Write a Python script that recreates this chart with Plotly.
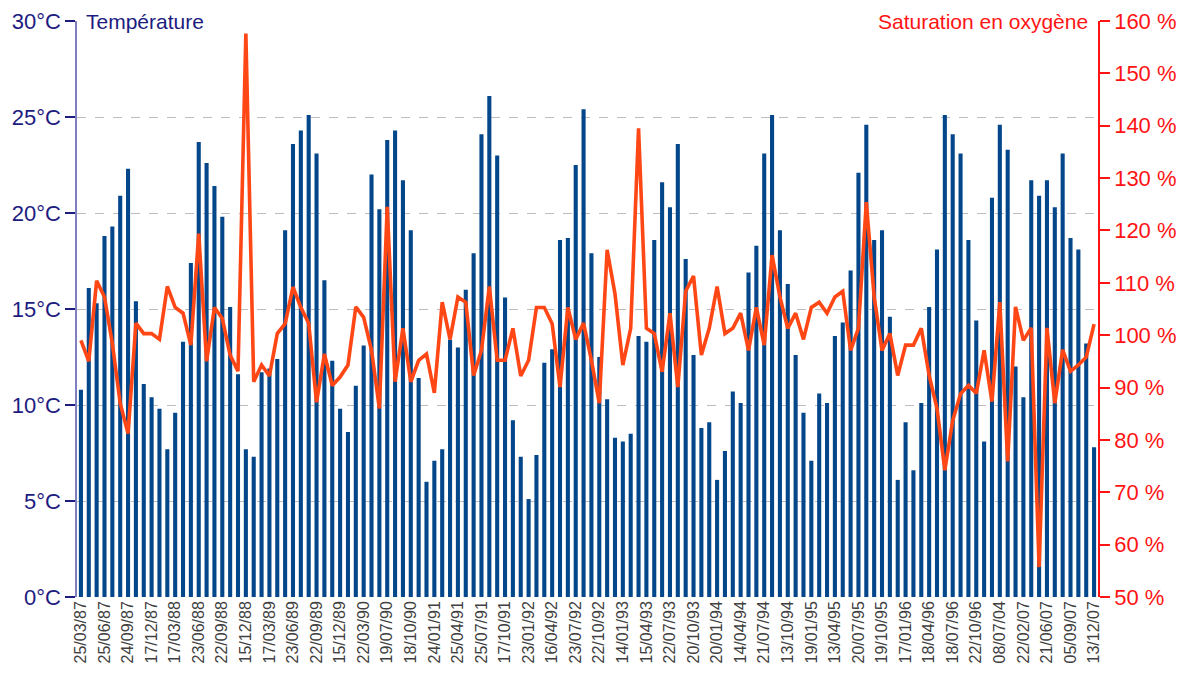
import plotly.graph_objects as go

tick_labels = ["25/03/87", "25/06/87", "24/09/87", "17/12/87", "17/03/88", "23/06/88", "22/09/88",
               "15/12/88", "17/03/89", "23/06/89", "22/09/89", "15/12/89", "22/03/90", "19/07/90",
               "18/10/90", "24/01/91", "25/04/91", "25/07/91", "17/10/91", "23/01/92", "16/04/92",
               "23/07/92", "22/10/92", "14/01/93", "15/04/93", "22/07/93", "20/10/93", "20/01/94",
               "14/04/94", "21/07/94", "13/10/94", "19/01/95", "13/04/95", "20/07/95", "19/10/95",
               "17/01/96", "18/04/96", "18/07/96", "22/10/96", "08/07/04", "22/02/07", "21/06/07",
               "05/09/07", "13/12/07"]

temperature = [10.8, 16.1, 15.3, 18.8, 19.3, 20.9, 22.3, 15.4, 11.1, 10.4,
               9.8, 7.7, 9.6, 13.3, 17.4, 23.7, 22.6, 21.4, 19.8, 15.1,
               11.6, 7.7, 7.3, 11.7, 11.9, 12.4, 19.1, 23.6, 24.3, 25.1,
               23.1, 16.5, 12.3, 9.8, 8.6, 11.0, 13.1, 22.0, 20.2, 23.8,
               24.3, 21.7, 19.1, 11.4, 6.0, 7.1, 7.7, 13.4, 13.0, 16.0,
               17.9, 24.1, 26.1, 23.0, 15.6, 9.2, 7.3, 5.1, 7.4, 12.2,
               12.9, 18.6, 18.7, 22.5, 25.4, 17.9, 12.5, 10.3, 8.3, 8.1,
               8.5, 13.6, 13.3, 18.6, 21.6, 20.3, 23.6, 17.6, 12.6, 8.8,
               9.1, 6.1, 7.6, 10.7, 10.1, 16.9, 18.3, 23.1, 25.1, 19.1,
               16.3, 12.6, 9.6, 7.1, 10.6, 10.1, 13.6, 14.3, 17.0, 22.1,
               24.6, 18.6, 19.1, 14.6, 6.1, 9.1, 6.6, 10.1, 15.1, 18.1,
               25.1, 24.1, 23.1, 18.6, 14.4, 8.1, 20.8, 24.6, 23.3, 12.0,
               10.4, 21.7, 20.9, 21.7, 20.3, 23.1, 18.7, 18.1, 13.2, 7.8]

saturation = [99.0, 95.0, 110.4, 107.3, 98.4, 87.0, 81.2, 102.3, 100.3, 100.3,
              99.2, 109.3, 105.3, 104.2, 98.1, 119.4, 95.0, 105.3, 103.2, 96.2,
              93.1, 157.6, 91.1, 94.3, 92.2, 100.3, 102.2, 109.2, 105.3, 102.3,
              87.2, 96.4, 90.4, 92.0, 94.3, 105.4, 103.4, 97.1, 86.0, 124.5,
              91.1, 101.3, 91.1, 95.2, 96.4, 89.0, 106.3, 99.2, 107.3, 106.3,
              92.3, 97.1, 109.3, 95.2, 95.2, 101.3, 92.2, 95.2, 105.3, 105.3,
              102.2, 90.1, 105.3, 99.2, 102.3, 95.2, 87.0, 116.3, 107.9, 94.3,
              101.3, 139.5, 101.3, 100.3, 93.0, 104.2, 90.1, 108.4, 111.3, 96.2,
              101.3, 109.3, 100.3, 101.3, 104.2, 97.1, 105.3, 98.1, 115.3, 107.3,
              101.3, 104.2, 99.2, 105.3, 106.3, 104.2, 107.3, 108.4, 97.1, 101.3,
              125.4, 107.3, 97.1, 100.3, 92.3, 98.1, 98.1, 101.3, 92.3, 86.0,
              74.2, 83.7, 88.8, 90.4, 88.9, 97.1, 87.3, 106.3, 75.9, 105.4,
              99.0, 101.4, 55.7, 101.4, 87.0, 97.2, 93.1, 94.3, 95.8, 102.1]

n = len(temperature)
x = list(range(n))
tick_positions = x[::3]

NAVY = "#1c1c80"
RED = "#ff1414"
BAR = "#03468a"
LINE = "#ff4716"
FONT = "Liberation Sans, Arial, sans-serif"

fig = go.Figure()
fig.add_trace(go.Bar(x=x, y=temperature, marker=dict(color=BAR, line=dict(width=0)),
                     name="Température", yaxis="y"))
fig.add_trace(go.Scatter(x=x, y=saturation, mode="lines", line=dict(color=LINE, width=3.6),
                         name="Saturation en oxygène", yaxis="y2"))

fig.update_layout(
    width=1176, height=657,
    margin=dict(l=69, r=86, t=13, b=68, autoexpand=False),
    paper_bgcolor="white", plot_bgcolor="white",
    showlegend=False,
    bargap=0.48,
    font=dict(family=FONT),
    xaxis=dict(
        range=[-0.5, n - 0.5], automargin=False,
        tickmode="array", tickvals=tick_positions, ticktext=tick_labels,
        tickangle=-90, tickfont=dict(size=16, color="#404040", family=FONT),
        showgrid=False, zeroline=False, showline=False, ticks="",
    ),
    yaxis=dict(
        range=[0, 30], automargin=False,
        tickmode="array", tickvals=[0, 5, 10, 15, 20, 25, 30],
        ticktext=[f"{v}°C" for v in [0, 5, 10, 15, 20, 25, 30]],
        tickfont=dict(size=22, color=NAVY, family=FONT),
        showgrid=True, gridcolor="#bdbdbd", griddash="dash", gridwidth=1,
        zeroline=False, showline=True, linecolor="#8080c0", linewidth=1.5,
        ticks="outside", ticklen=10, tickcolor=NAVY, tickwidth=2,
    ),
    yaxis2=dict(
        range=[50, 160], overlaying="y", side="right", anchor="x", automargin=False,
        tickmode="array", tickvals=list(range(50, 161, 10)),
        ticktext=[f"{v} %" for v in range(50, 161, 10)],
        tickfont=dict(size=22, color=RED, family=FONT),
        showgrid=False, zeroline=False, showline=True, linecolor=RED, linewidth=1.5,
        ticks="outside", ticklen=10, tickcolor=RED, tickwidth=2,
    ),
    annotations=[
        dict(text="Température", xref="paper", yref="paper", x=0.007, y=1.0,
             xanchor="left", yanchor="middle", showarrow=False,
             font=dict(size=21, color=NAVY, family=FONT)),
        dict(text="Saturation en oxygène", xref="paper", yref="paper", x=0.992, y=1.0,
             xanchor="right", yanchor="middle", showarrow=False,
             font=dict(size=21, color=RED, family=FONT)),
    ],
)

fig.write_html("out.html")
